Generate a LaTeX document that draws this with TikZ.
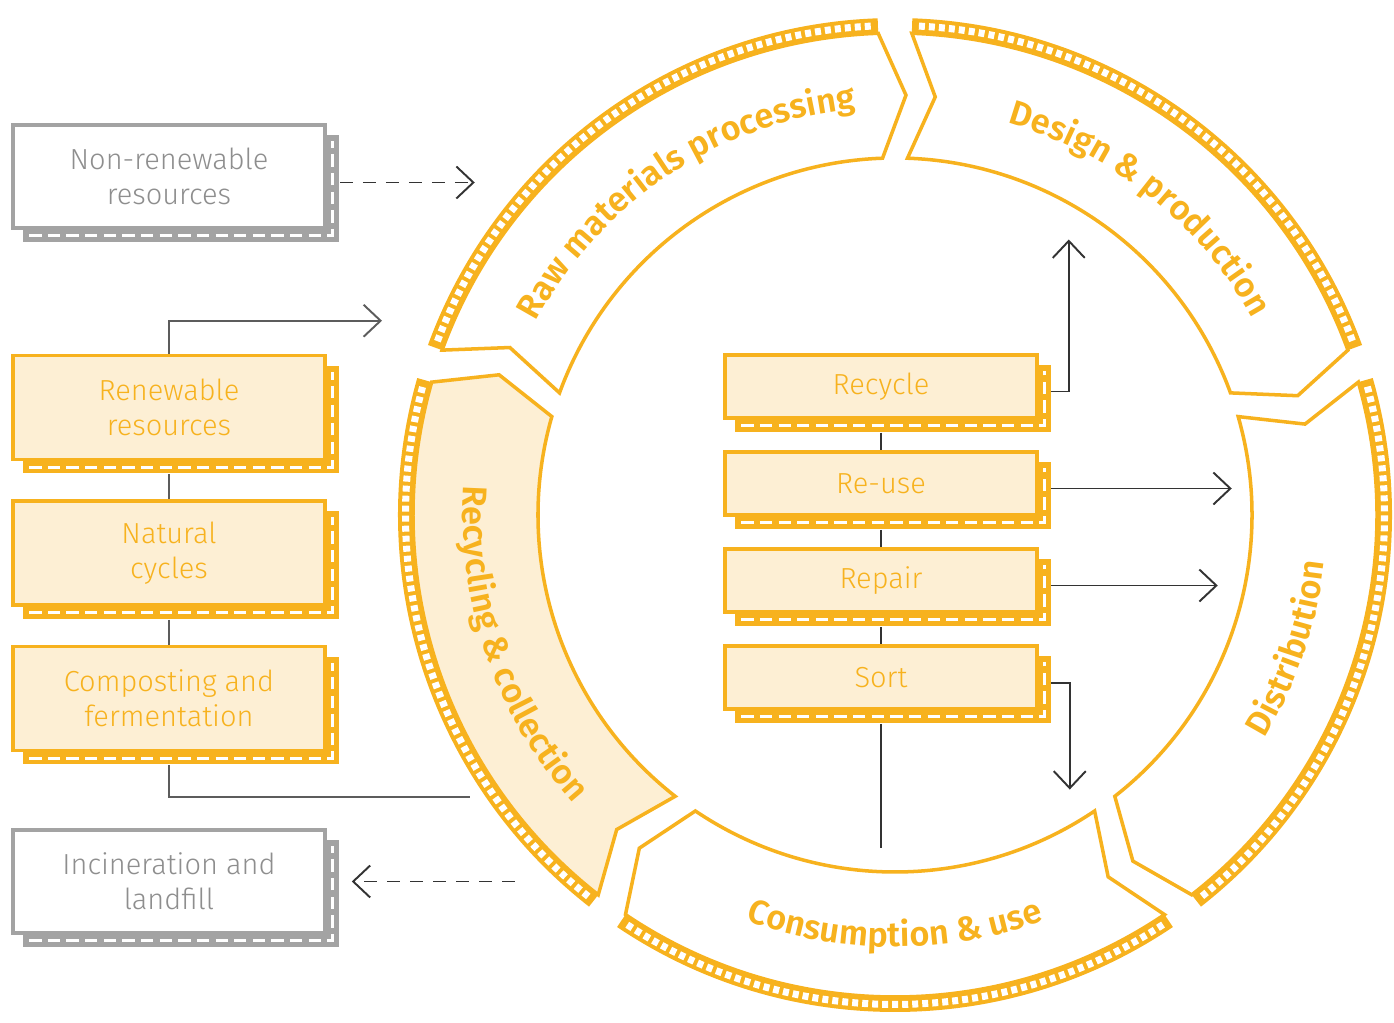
\documentclass[tikz,border=0pt]{standalone}
\usepackage{fontspec}
\setmainfont{Fira Sans}[UprightFont=* Light, BoldFont=* SemiBold]
\usepackage{tikz}
\usetikzlibrary{arrows.meta, positioning, shadows, decorations.text}
\usepackage{xcolor}
\definecolor{segorange}{HTML}{F7B21E}
\definecolor{boxfill}{HTML}{FDEFD4}
\definecolor{boxgray}{HTML}{A3A3A3}
\definecolor{textgray}{HTML}{8E8E8E}
\definecolor{linegray}{HTML}{5C5C5C}
\definecolor{arrowdark}{HTML}{333333}
\newcommand{\boxfont}{\fontsize{16.5}{20}\selectfont}
\newcommand{\seglabel}{\fontsize{19.5}{22}\selectfont\bfseries\color{segorange}}

\begin{document}
\begin{tikzpicture}[
    x=0.2mm, y=0.2mm,
    node distance=7.6mm,
    flowbox/.style={
        rectangle,
        align=center,
        line width=2pt,
        minimum width=62.4mm,
        font=\boxfont
    },
    resbox/.style={
        flowbox, draw=segorange, fill=boxfill, text=segorange,
        minimum height=20.8mm,
        copy shadow={shadow xshift=2.4mm, shadow yshift=-2.4mm, draw=segorange, fill=segorange}
    },
    wastebox/.style={
        flowbox, draw=boxgray, fill=white, text=textgray,
        minimum height=20.6mm,
        copy shadow={shadow xshift=2.4mm, shadow yshift=-2.4mm, draw=boxgray, fill=boxgray}
    },
    actionbox/.style={resbox, minimum height=12.6mm},
    boxhatch/.style={white, line width=1.8pt, dash pattern=on 7pt off 3.6pt},
    ringhatch/.style={white, line width=4pt, dash pattern=on 3.4pt off 2.3pt},
    segline/.style={draw=segorange, line width=2pt, line join=miter},
    link/.style={linegray, line width=1.1pt},
    arrow/.style={-{Straight Barb[length=3.4mm, width=6.4mm]}, line width=1.1pt, arrowdark},
    dasharrow/.style={arrow, dash pattern=on 2.6mm off 2mm}
]
\useasboundingbox (0,0) rectangle (1394,1023);

% the ring
\coordinate (hub) at (895,508);
\begin{scope}[shift={(hub)}]
\foreach \s/\segfill in {160/white, 88/white, 16/white, -56/white, -128/boxfill} {
    \pgfmathsetmacro\e{\s-68}
    \fill[segorange] (\s:482) arc[start angle=\s, end angle=\e, radius=482]
        -- (\e:497) arc[start angle=\e, end angle=\s, radius=497] -- cycle;
    \draw[ringhatch] ({\s-0.8}:489.5) arc[start angle=\s-0.8, end angle=\e+0.8, radius=489.5];
    \draw[segline, fill=\segfill] (\s:482) arc[start angle=\s, end angle=\e, radius=482]
        -- ({\e-3.5}:420) -- (\e:357) arc[start angle=\e, end angle=\s, radius=357]
        -- ({\s-3.5}:420) -- cycle;
}
\path[decorate, decoration={text along path, text align=center,
    text={|\seglabel|Raw materials processing}}]
    (158.6:408) arc[start angle=158.6, end angle=88.6, radius=408];
\path[decorate, decoration={text along path, text align=center,
    text={|\seglabel|Design {\&} production}}]
    (86.4:408) arc[start angle=86.4, end angle=16.4, radius=408];
\path[decorate, decoration={text along path, text align=center,
    text={|\seglabel|Distribution}}]
    (-53.7:432) arc[start angle=-53.7, end angle=16.3, radius=432];
\path[decorate, decoration={text along path, text align=center,
    text={|\seglabel|Consumption {\&} use}}]
    (-125:432) arc[start angle=-125, end angle=-55, radius=432];
\path[decorate, decoration={text along path, text align=center,
    text={|\seglabel|Recycling {\&} collection}}]
    (164:432) arc[start angle=164, end angle=234, radius=432];
\end{scope}

% resources
\node[wastebox] (nonrenew) at (169,846.5) {Non-renewable\\resources};
\node[resbox] (renew) at (169,615.5) {Renewable\\resources};
\node[resbox, below=of renew] (natural) {Natural\\cycles};
\node[resbox, below=of natural] (compost) {Composting and\\fermentation};
\node[wastebox] (landfill) at (169,141.5) {Incineration and\\landfill};

% loops
\node[actionbox] (recycle) at (881,636.5) {Recycle};
\node[actionbox, below=6.1mm of recycle] (reuse) {Re-use};
\node[actionbox, below=6.1mm of reuse] (repair) {Repair};
\node[actionbox, below=6.1mm of repair] (sort) {Sort};

% hatching of the shadows
\foreach \n in {nonrenew, renew, natural, compost, landfill, recycle, reuse, repair, sort} {
    \draw[boxhatch] ([shift={(18,-6)}]\n.south west) -- ([shift={(6,-6)}]\n.south east)
        -- ([shift={(6,-18)}]\n.north east);
}

\coordinate (rawin) at ([shift={(148,-6)}]nonrenew.east);
\coordinate (rawfeed) at ([shift={(213,33)}]renew.north);
\coordinate (collectout) at ([shift={(301,-45)}]compost.south);
\coordinate (wasteout) at ([shift={(188,0)}]landfill.east);
\coordinate (designin) at ([shift={(30,147)}]recycle.east);
\coordinate (distin) at ([shift={(193,-5)}]reuse.east);
\coordinate (distin2) at ([shift={(179,-5)}]repair.east);
\coordinate (usein) at ([shift={(31,-112)}]sort.east);
\coordinate (useout) at ([shift={(0,-137)}]sort.south);

\draw[dasharrow] ([shift={(13,-6)}]nonrenew.east) -- (rawin);
\draw[link, -{Straight Barb[length=3.4mm, width=6.4mm]}] (renew.north) |- (rawfeed);
\draw[link] ([yshift=-2.6mm]renew.south) -- (natural.north);
\draw[link] ([yshift=-2.6mm]natural.south) -- (compost.north);
\draw[link] ([yshift=-2.6mm]compost.south) |- (collectout);
\draw[dasharrow] (wasteout) -- ([shift={(25,0)}]landfill.east);

\draw[arrow] ([shift={(12,-5)}]recycle.east) -| (designin);
\draw[arrow] ([shift={(12,-5)}]reuse.east) -- (distin);
\draw[arrow] ([shift={(12,-5)}]repair.east) -- (distin2);
\draw[arrow] ([shift={(12,-5)}]sort.east) -| (usein);
\draw[arrowdark, line width=1.1pt] ([yshift=-2.6mm]recycle.south) -- (reuse.north);
\draw[arrowdark, line width=1.1pt] ([yshift=-2.6mm]reuse.south) -- (repair.north);
\draw[arrowdark, line width=1.1pt] ([yshift=-2.6mm]repair.south) -- (sort.north);
\draw[arrowdark, line width=1.1pt] ([yshift=-2.6mm]sort.south) -- (useout);

\end{tikzpicture}
\end{document}
